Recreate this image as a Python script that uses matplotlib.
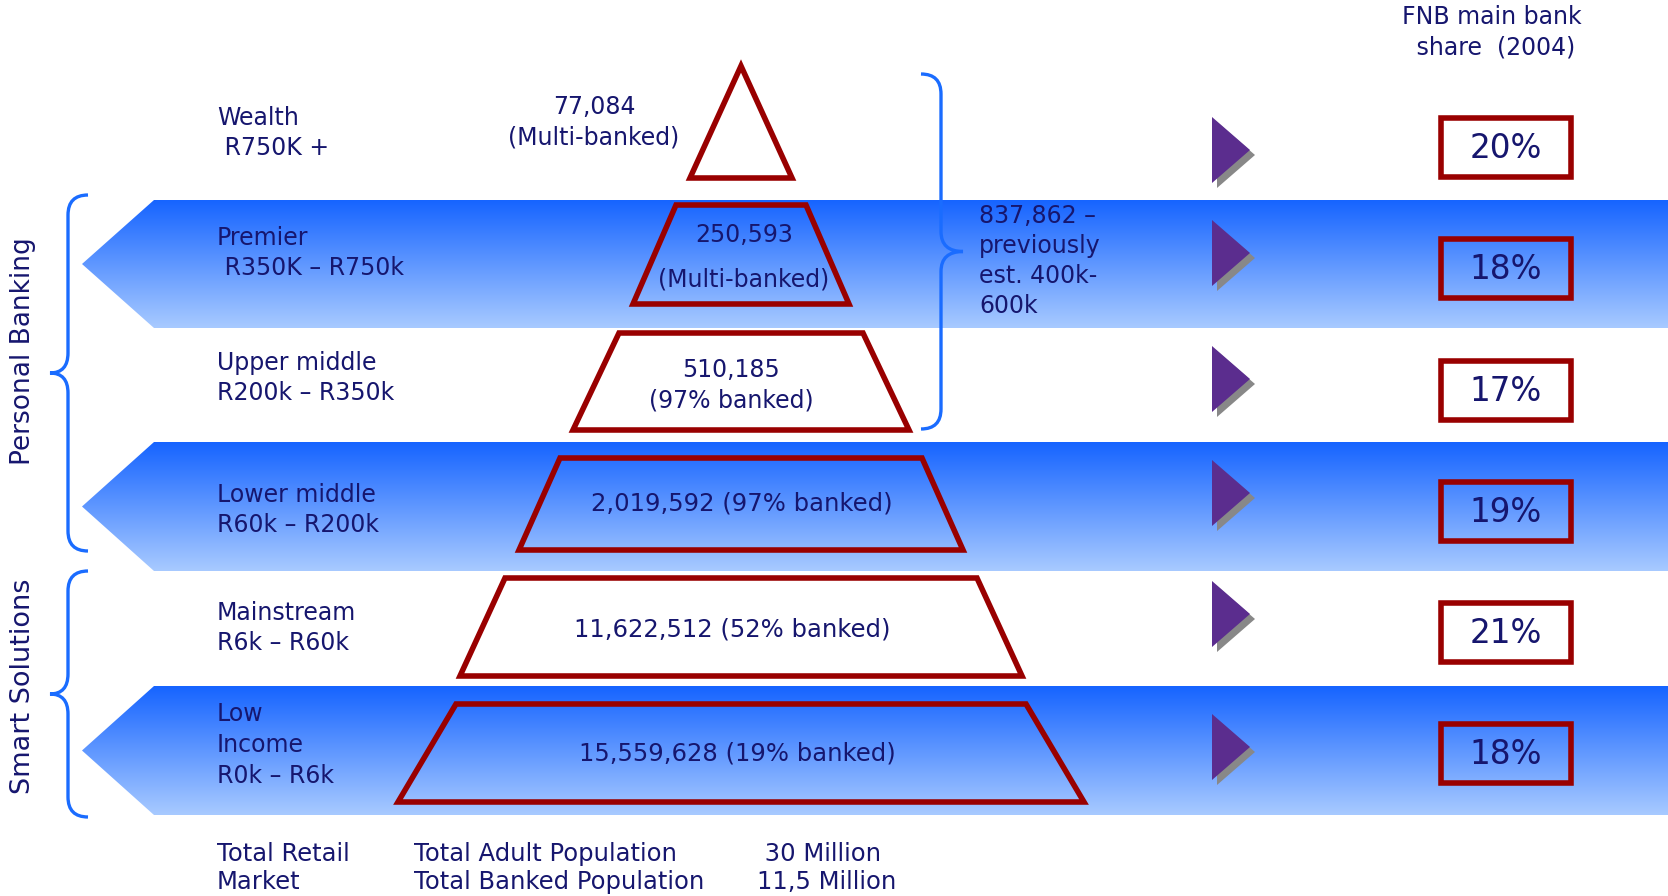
import matplotlib.pyplot as plt
import numpy as np
from matplotlib.patches import Polygon, Rectangle, PathPatch
from matplotlib.path import Path

# data
segments = ['Wealth\n R750K +', 'Premier\n R350K \u2013 R750k', 'Upper middle\nR200k \u2013 R350k',
            'Lower middle\nR60k \u2013 R200k', 'Mainstream\nR6k \u2013 R60k', 'Low\nIncome\nR0k \u2013 R6k']
populations = ['77,084', '250,593', '510,185', '2,019,592', '11,622,512', '15,559,628']
banked = ['(Multi-banked)', '(Multi-banked)', '(97% banked)', '(97% banked)', '(52% banked)', '(19% banked)']
fnb_share = [20, 18, 17, 19, 21, 18]
groups = ['Personal Banking', 'Smart Solutions']
wealthy_note = '837,862 \u2013\npreviously\nest. 400k-\n600k'
totals_left = 'Total Retail\nMarket'
totals_mid = 'Total Adult Population\nTotal Banked Population'
totals_right = ' 30 Million\n11,5 Million'

# layout (pixel space)
row_top = [66, 205, 333, 458, 578, 704]
row_bot = [178, 304, 430, 550, 676, 802]
half_top = [0, 65, 122, 181, 236, 285]
half_bot = [51, 108, 168, 222, 281, 343]
cx = 741
box_y = [118, 239, 361, 482, 603, 724]
box_h = 59
arrow_y = [150, 253, 379, 493, 614, 747]
label_y = [133, 253, 378, 510, 628, 745]
bands = [(200, 328), (442, 571), (686, 815)]

navy = '#16166e'
red = '#990000'
blue = '#1a6cff'
fs = 17

fig = plt.figure(figsize=(16.68, 8.96), dpi=100)
ax = fig.add_axes([0, 0, 1, 1])
ax.axis('off')

# gradient bands
grad = np.linspace(0, 1, 256)[:, None, None]
c_top = np.array([22, 100, 255]) / 255
c_bot = np.array([168, 202, 255]) / 255
img = c_top * (1 - grad) + c_bot * grad
for top, bot in bands:
    mid = (top + bot) / 2
    poly = Polygon([(82, mid), (154, top), (1668, top), (1668, bot), (154, bot)],
                   closed=True, facecolor='none', edgecolor='none')
    ax.add_patch(poly)
    im = ax.imshow(img, extent=(82, 1668, bot, top), aspect='auto', origin='upper', zorder=1)
    im.set_clip_path(poly)

# pyramid pieces
for i in range(len(populations)):
    pts = [(cx - half_top[i], row_top[i]), (cx + half_top[i], row_top[i]),
           (cx + half_bot[i], row_bot[i]), (cx - half_bot[i], row_bot[i])]
    ax.add_patch(Polygon(pts, closed=True, facecolor='none', edgecolor=red,
                         linewidth=4, joinstyle='miter', zorder=3))

# population texts
ax.text(594, 122, populations[0] + '\n' + banked[0], ha='center', va='center',
        fontsize=fs, color=navy, linespacing=1.35, zorder=4)
ax.text(744, 235, populations[1], ha='center', va='center', fontsize=fs, color=navy, zorder=4)
ax.text(744, 279, banked[1], ha='center', va='center', fontsize=fs, color=navy, zorder=4)
ax.text(731, 385, populations[2] + '\n' + banked[2], ha='center', va='center',
        fontsize=fs, color=navy, linespacing=1.35, zorder=4)
for i, (x, y) in zip(range(3, 6), [(742, 504), (732, 629), (737, 754)]):
    ax.text(x, y, populations[i] + ' ' + banked[i], ha='center', va='center',
            fontsize=fs + 0.5, color=navy, zorder=4)

# segment labels
for lab, y in zip(segments, label_y):
    ax.text(217, y, lab, ha='left', va='center', fontsize=fs, color=navy,
            linespacing=1.35, zorder=4)

# arrows with shadow
for y in arrow_y:
    ax.add_patch(Polygon([(1217, y - 28), (1255, y + 5), (1217, y + 38)], closed=True,
                         facecolor='#888888', edgecolor='none', zorder=3))
    ax.add_patch(Polygon([(1212, y - 33), (1250, y), (1212, y + 33)], closed=True,
                         facecolor='#5b2d8e', edgecolor='none', zorder=4))

# share boxes
for s, y in zip(fnb_share, box_y):
    ax.add_patch(Rectangle((1441, y), 130, box_h, facecolor='none', edgecolor=red,
                           linewidth=4, joinstyle='miter', zorder=4))
    ax.text(1506, y + box_h / 2 + 1, f'{s}%', ha='center', va='center', fontsize=23.5,
            color=navy, zorder=5)

ax.text(1492, 32, 'FNB main bank\n share  (2004)', ha='center', va='center',
        fontsize=fs, color=navy, linespacing=1.35)


def brace(x, y0, y1, tip, r, direction):
    # direction +1: '}' (tip to right), -1: '{' (tip to left)
    ym = (y0 + y1) / 2
    xe = x - direction * r
    verts = [(xe, y0), (x, y0), (x, y0 + r), (x, ym - r), (x, ym), (tip, ym),
             (x, ym), (x, ym + r), (x, y1 - r), (x, y1), (xe, y1)]
    codes = [Path.MOVETO, Path.CURVE3, Path.CURVE3, Path.LINETO, Path.CURVE3, Path.CURVE3,
             Path.CURVE3, Path.CURVE3, Path.LINETO, Path.CURVE3, Path.CURVE3]
    ax.add_patch(PathPatch(Path(verts, codes), facecolor='none', edgecolor=blue,
                           linewidth=2.4, zorder=4))


brace(941, 74, 429, 963, 20, 1)
brace(68, 195, 551, 50, 20, -1)
brace(68, 571, 817, 50, 20, -1)

ax.text(979, 261, wealthy_note, ha='left', va='center', fontsize=fs, color=navy,
        linespacing=1.3, zorder=4)

ax.text(23, 351, groups[0], rotation=90, ha='center', va='center', fontsize=19, color=navy)
ax.text(23, 686, groups[1], rotation=90, ha='center', va='center', fontsize=19.5, color=navy)

ax.text(217, 868, totals_left, ha='left', va='center', fontsize=17.5, color=navy,
        linespacing=1.2)
ax.text(414, 868, totals_mid, ha='left', va='center', fontsize=17.5, color=navy,
        linespacing=1.2)
ax.text(757, 868, totals_right, ha='left', va='center', fontsize=17.5, color=navy,
        linespacing=1.2)

ax.set_xlim(0, 1668)
ax.set_ylim(896, 0)

fig.savefig('out.png', dpi=100)
